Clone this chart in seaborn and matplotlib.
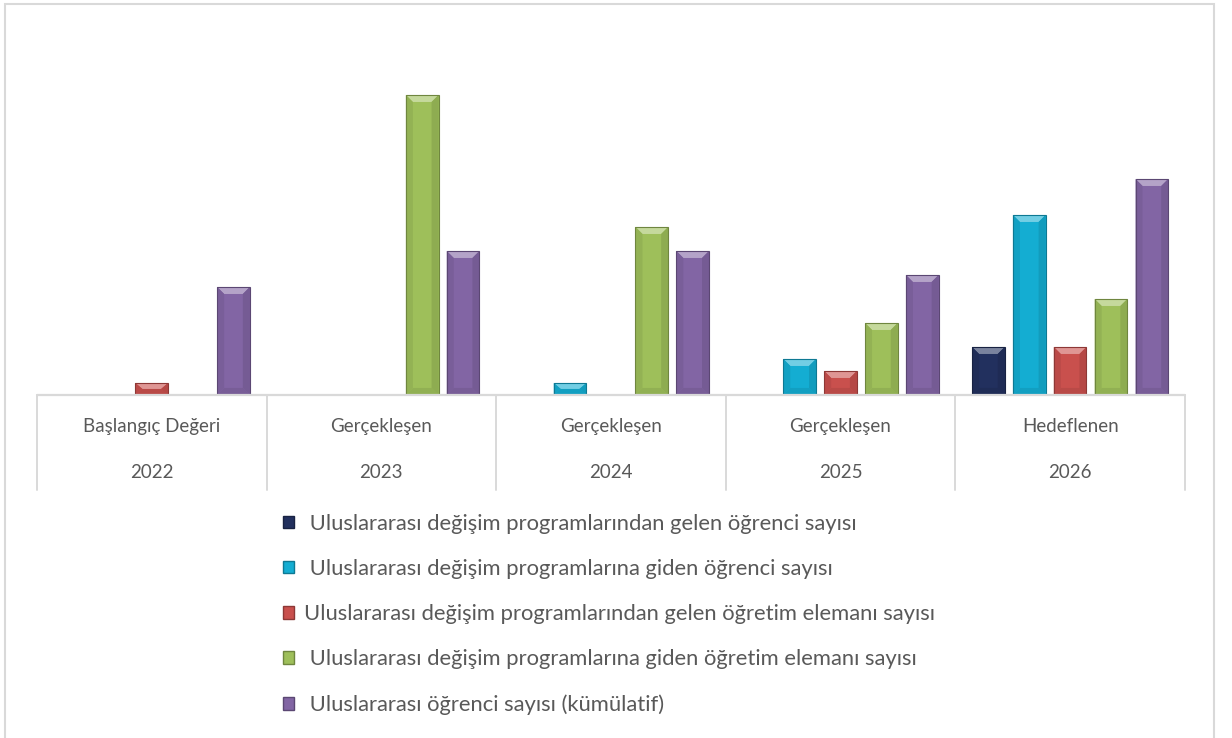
import numpy as np
import pandas as pd
import matplotlib
matplotlib.use("Agg")
import matplotlib.pyplot as plt
import matplotlib.colors as mcolors
from matplotlib.patches import Patch, Polygon, Rectangle
import seaborn as sns

# ---- data ----
stages = ["Başlangıç Değeri", "Gerçekleşen", "Gerçekleşen", "Gerçekleşen", "Hedeflenen"]
years = ["2022", "2023", "2024", "2025", "2026"]
series = [
    " Uluslararası değişim programlarından gelen öğrenci sayısı",
    " Uluslararası değişim programlarına giden öğrenci sayısı",
    "Uluslararası değişim programlarından gelen öğretim elemanı sayısı",
    " Uluslararası değişim programlarına giden öğretim elemanı sayısı",
    " Uluslararası öğrenci sayısı (kümülatif)",
]
gelen_ogrenci = [0, 0, 0, 0, 4]
giden_ogrenci = [0, 0, 1, 3, 15]
gelen_ogretim = [1, 0, 0, 2, 4]
giden_ogretim = [0, 25, 14, 6, 8]
kumulatif = [9, 12, 12, 10, 18]
colors = ["#22305E", "#14ADD2", "#C9504D", "#9EBF5A", "#8265A4"]

values = [gelen_ogrenci, giden_ogrenci, gelen_ogretim, giden_ogretim, kumulatif]
rows = []
for name, vals in zip(series, values):
    for yr, v in zip(years, vals):
        rows.append({"Yil": yr, "Seri": name, "Deger": v})
df = pd.DataFrame(rows)

sns.set_style("white")
plt.rcParams["font.family"] = ["Lato", "DejaVu Sans"]
text_color = "#595959"
line_color = "#D9D9D9"

fig = plt.figure(figsize=(12.32, 7.38), dpi=100)
ax = fig.add_axes([0.0300, 0.4648, 0.9318, 0.4878])

sns.barplot(data=df, x="Yil", y="Deger", hue="Seri", order=years, hue_order=series,
            palette=colors, saturation=1, width=0.89, gap=0.2, ax=ax, legend=False,
            edgecolor="none", linewidth=0)

ax.set_xlim(-0.5, 4.5)
ax.set_ylim(0, 30)
ax.set_xlabel("")
ax.set_ylabel("")
ax.set_xticks([])
ax.set_yticks([])
for s in ax.spines.values():
    s.set_visible(False)

# bevel look on each bar
fig.canvas.draw()
inv = ax.transData.inverted()
p0 = inv.transform((0, 0))
p1 = inv.transform((7, 7))
bx, by = p1[0] - p0[0], p1[1] - p0[1]
for bar in list(ax.patches):
    h = bar.get_height()
    if not h or np.isnan(h) or h <= 0:
        continue
    x, y, w = bar.get_x(), bar.get_y(), bar.get_width()
    fc = np.array(mcolors.to_rgb(bar.get_facecolor()))
    light = fc + (1 - fc) * 0.4
    dark = fc * 0.7
    dy = min(by, h / 2)
    dx = min(bx, w / 3)
    ax.add_patch(Polygon([(x, y + h), (x + w, y + h), (x + w - dx, y + h - dy), (x + dx, y + h - dy)],
                         closed=True, facecolor=light, edgecolor="none", zorder=3))
    ax.add_patch(Polygon([(x, y), (x + w, y), (x + w - dx, y + dy), (x + dx, y + dy)],
                         closed=True, facecolor=fc * 0.92, edgecolor="none", zorder=3))
    ax.add_patch(Polygon([(x, y), (x + dx, y + dy), (x + dx, y + h - dy), (x, y + h)],
                         closed=True, facecolor=fc * 0.93, edgecolor="none", zorder=3))
    ax.add_patch(Polygon([(x + w, y), (x + w - dx, y + dy), (x + w - dx, y + h - dy), (x + w, y + h)],
                         closed=True, facecolor=fc * 0.9, edgecolor="none", zorder=3))
    ax.add_patch(Rectangle((x, y), w, h, facecolor="none", edgecolor=dark, linewidth=0.8, zorder=4))

# two-level category axis
trans = ax.get_xaxis_transform()
ax.plot([-0.5, 4.5], [0, 0], transform=trans, color=line_color, lw=1.6, clip_on=False, zorder=5)
sep_bottom = -95 / 360
for xb in np.arange(-0.5, 5.0, 1.0):
    ax.plot([xb, xb], [0, sep_bottom], transform=trans, color=line_color, lw=1.4, clip_on=False)
for i, (st, yr) in enumerate(zip(stages, years)):
    ax.text(i, -32 / 360, st, transform=trans, ha="center", va="center", fontsize=13.5, color=text_color)
    ax.text(i, -78 / 360, yr, transform=trans, ha="center", va="center", fontsize=13.5, color=text_color)

# legend
handles = [Patch(facecolor=c, edgecolor=np.array(mcolors.to_rgb(c)) * 0.7) for c in colors]
leg = fig.legend(handles, series, loc="upper left", bbox_to_anchor=(274 / 1232, 1 - 505 / 738),
                 frameon=False, fontsize=15.8, labelcolor=text_color, handlelength=0.5,
                 handleheight=0.5, handletextpad=0.45, labelspacing=1.15, borderaxespad=0)

# outer chart border
fig.patches.append(Rectangle((5 / 1232, -0.05), 1209 / 1232, 1.05 - 4 / 738, transform=fig.transFigure,
                             facecolor="none", edgecolor=line_color, linewidth=1.5, figure=fig))

fig.savefig("out.png", dpi=100, facecolor="white")
